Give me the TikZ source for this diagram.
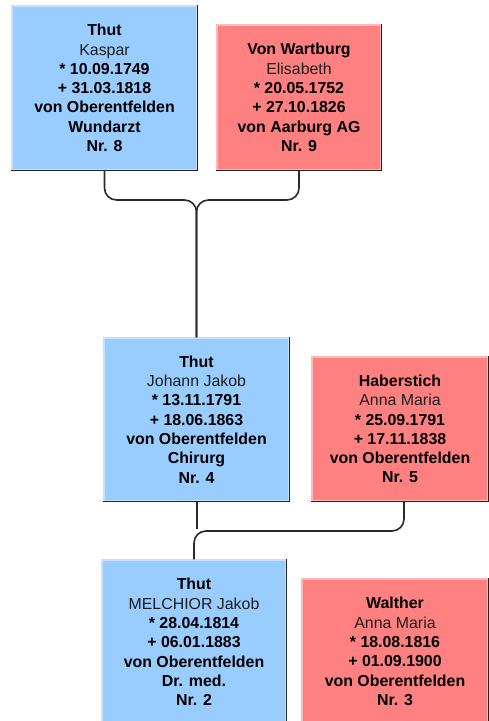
\documentclass[tikz,border=0pt]{standalone}
\usepackage{fontspec}
\setmainfont{Liberation Sans}
\definecolor{mblue}{HTML}{99CCFF}
\definecolor{mbluel}{HTML}{C4E2FF}
\definecolor{fred}{HTML}{FF8080}
\definecolor{fredl}{HTML}{FFB8B8}
\definecolor{edge}{HTML}{222222}
\definecolor{conn}{HTML}{2A2A2A}
\definecolor{given}{HTML}{1E1E1E}
\newcommand{\gn}[1]{\mdseries\color{given}#1}
\begin{document}
\begin{tikzpicture}[x=1pt,y=-1pt,
  person/.style={rectangle, inner sep=0pt, line width=1.2pt, align=center,
    font=\fontsize{15.9}{19.3}\selectfont\bfseries},
  male/.style={person, fill=mblue, draw=mbluel},
  female/.style={person, fill=fred, draw=fredl},
  shade/.style={draw=edge, line width=1.4pt},
  link/.style={draw=conn, line width=1.6pt, rounded corners=12pt}]
\useasboundingbox (0,0) rectangle (489,721);

\node[male, minimum width=185pt, minimum height=164pt] (b8) at (104.5,88)
  {Thut\\\gn{Kaspar}\\* 10.09.1749\\+ 31.03.1818\\von Oberentfelden\\Wundarzt\\Nr. 8};
\node[female, minimum width=164pt, minimum height=145pt] (b9) at (299,97.5)
  {Von Wartburg\\\gn{Elisabeth}\\* 20.05.1752\\+ 27.10.1826\\von Aarburg AG\\Nr. 9};
\node[male, minimum width=185pt, minimum height=163pt] (b4) at (196.5,419.5)
  {Thut\\\gn{Johann Jakob}\\* 13.11.1791\\+ 18.06.1863\\von Oberentfelden\\Chirurg\\Nr. 4};
\node[female, minimum width=176pt, minimum height=144pt] (b5) at (400,429)
  {Haberstich\\\gn{Anna Maria}\\* 25.09.1791\\+ 17.11.1838\\von Oberentfelden\\Nr. 5};
\node[male, minimum width=184pt, minimum height=164pt] (b2) at (194,642)
  {Thut\\\gn{MELCHIOR Jakob}\\* 28.04.1814\\+ 06.01.1883\\von Oberentfelden\\Dr. med.\\Nr. 2};
\node[female, minimum width=186pt, minimum height=145pt] (b3) at (395,651.5)
  {Walther\\\gn{Anna Maria}\\* 18.08.1816\\+ 01.09.1900\\von Oberentfelden\\Nr. 3};

\foreach \b in {b8,b9,b4,b5,b2,b3}
  \draw[shade] (\b.north east) -- (\b.south east) -- (\b.south west);

% parents of b4
\draw[link] (b8.south) -- (b8.south |- 0,200) -- (b4.north |- 0,200) -- (b4.north);
\draw[link] (b9.south) -- (b9.south |- 0,200) -- (b4.north |- 0,200) -- (b4.north);

% parents of b2
\coordinate (j4) at (197,529);
\draw[link] (b4.south -| j4) -- (j4);
\draw[link] (b5.south -| 404,0) -- (404,531) -- (b2.north |- 0,531) -- (b2.north);
\end{tikzpicture}
\end{document}
